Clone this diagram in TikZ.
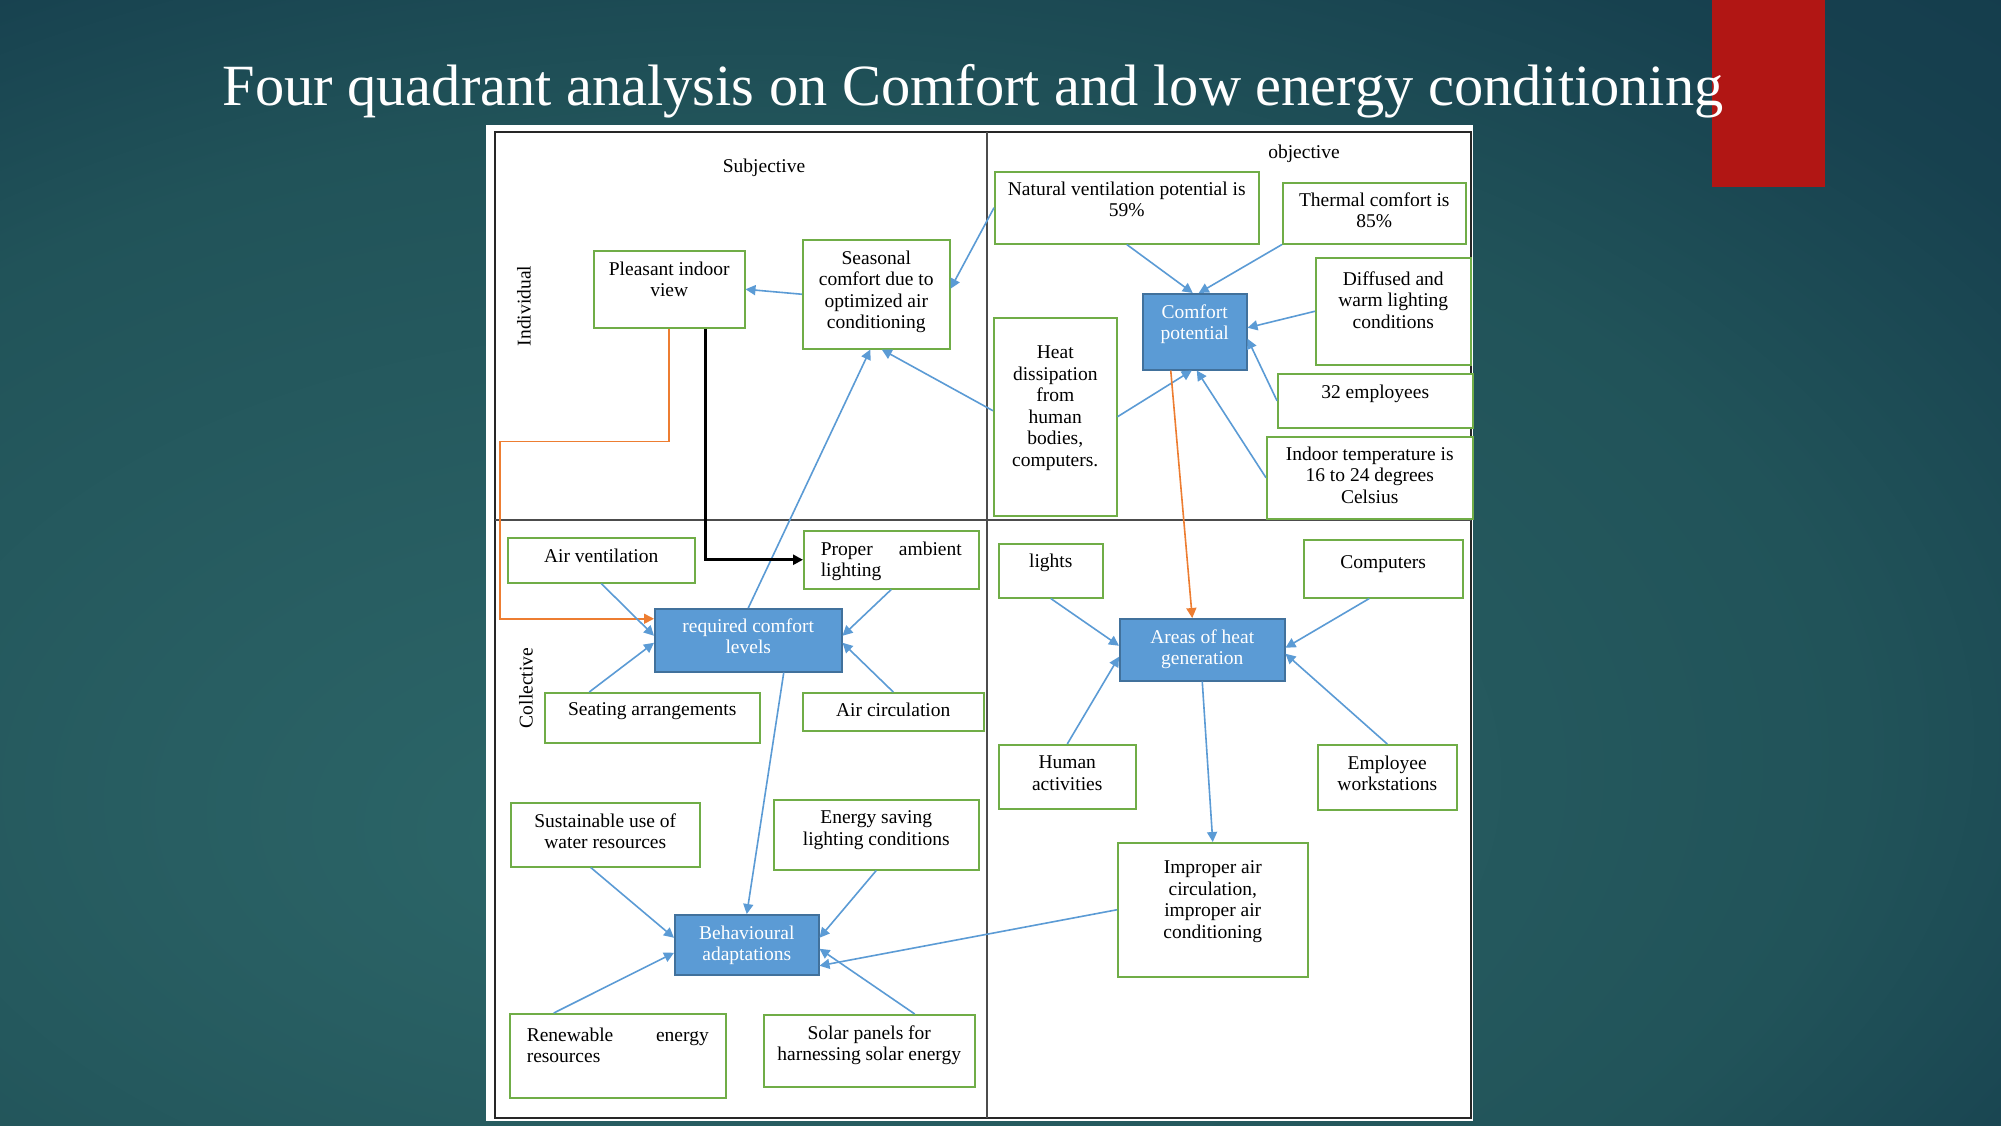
\documentclass[tikz,border=0pt]{standalone}
\usepackage{fontspec}
\setmainfont{Liberation Serif}
\usetikzlibrary{arrows.meta}

\definecolor{bglight}{HTML}{2B6668}
\definecolor{bgsoft}{HTML}{285E62}
\definecolor{bgmid}{HTML}{215359}
\definecolor{bgdeep}{HTML}{17414F}
\definecolor{bgdark}{HTML}{12384A}
\definecolor{slidered}{HTML}{B11614}
\definecolor{boxgreen}{HTML}{70AD47}
\definecolor{boxblue}{HTML}{5B9BD5}
\definecolor{boxedge}{HTML}{41719C}
\definecolor{arrowblue}{HTML}{5B9BD5}
\definecolor{heatorange}{HTML}{ED7D31}

\pgfdeclareradialshading{slidebg}{\pgfpoint{-10bp}{-12.8bp}}{color(0bp)=(bglight); color(12bp)=(bgsoft); color(28bp)=(bgmid); color(38bp)=(bgdeep); color(50bp)=(bgdark); color(80bp)=(bgdark)}

\newcommand{\boxfont}{\fontsize{19.5}{21.5}\selectfont}
% width, height, gap above first line, text
\newcommand{\boxtext}[4]{\parbox[c][#2][t]{#1}{\centering\vspace*{#3}#4}}

\tikzset{
  gbox/.style={draw=boxgreen, line width=1.5pt, fill=white, inner sep=0pt, anchor=north west, font=\boxfont},
  bbox/.style={draw=boxedge, line width=1.5pt, fill=boxblue, text=white, inner sep=0pt, anchor=north west, font=\boxfont},
  lbl/.style={font=\boxfont, inner sep=0pt},
  flow/.style={draw=arrowblue, line width=1.6pt, -{Triangle[length=10pt,width=10pt]}},
  heatline/.style={draw=heatorange, line width=1.6pt, -{Triangle[length=10pt,width=10pt]}},
  viewline/.style={draw=black, line width=3pt, -{Triangle[length=10pt,width=10pt]}}
}

\begin{document}
\begin{tikzpicture}[x=1pt,y=-1pt]
\useasboundingbox (0,0) rectangle (2001,1125);
% slide
\shade[shading=slidebg] (0,0) rectangle (2001,1125);
\fill[slidered] (1712,0) rectangle (1825,187);
\node[anchor=base, text=white, font=\fontsize{58.4}{70}\selectfont, inner sep=0pt] (title) at (973,105) {Four quadrant analysis on Comfort and low energy conditioning};

% panel and quadrants
\fill[white] (486,125) rectangle (1473,1121);
\draw[line width=2pt, black!85] (495,132) rectangle (1471,1118);
\draw[line width=2pt, black!70] (987,132) -- (987,1118);
\draw[line width=2pt, black!70] (495,520) -- (1471,520);

\node[lbl] (subj) at (764,168) {Subjective};
\node[lbl] (obj) at (1304,154) {objective};
\node[lbl, rotate=90] (indiv) at (524,306) {Individual};
\node[lbl, rotate=90] (coll) at (526,688) {Collective};

% individual / subjective
\node[gbox] (pleasant) at (593,250) {\boxtext{151pt}{77pt}{11pt}{Pleasant indoor\\view}};
\node[gbox] (seasonal) at (802,239) {\boxtext{147pt}{109pt}{11pt}{Seasonal\\comfort due to\\optimized air\\conditioning}};

% individual / objective
\node[gbox] (natvent) at (994,171) {\boxtext{264pt}{72pt}{10pt}{Natural ventilation potential is\\59\%}};
\node[gbox] (thermal) at (1282,182) {\boxtext{183pt}{61pt}{10pt}{Thermal comfort is\\85\%}};
\node[gbox] (diffused) at (1315,257) {\boxtext{155pt}{107pt}{14pt}{Diffused and\\warm lighting\\conditions}};
\node[bbox] (comfort) at (1142,293) {\boxtext{104pt}{76pt}{11pt}{Comfort\\potential}};
\node[gbox] (heat) at (993,317) {\boxtext{123pt}{198pt}{28pt}{Heat\\dissipation\\from\\human\\bodies,\\computers.}};
\node[gbox] (staff) at (1277,373) {\boxtext{195pt}{54pt}{11pt}{32 employees}};
\node[gbox] (indoor) at (1266,436) {\boxtext{206pt}{82pt}{10pt}{Indoor temperature is\\16 to 24 degrees\\Celsius}};

% collective / subjective
\node[gbox] (airvent) at (507,537) {\boxtext{187pt}{45pt}{11pt}{Air ventilation}};
\node[gbox] (proper) at (803,530) {\boxtext{175pt}{58pt}{11pt}{\parbox[t]{141pt}{Proper\hfill ambient\\lighting}}};
\node[bbox] (required) at (654,608) {\boxtext{187pt}{63pt}{10pt}{required comfort\\levels}};
\node[gbox] (seating) at (544,692) {\boxtext{215pt}{50pt}{10pt}{Seating arrangements}};
\node[gbox] (aircirc) at (802,692) {\boxtext{181pt}{38pt}{10pt}{Air circulation}};
\node[gbox] (water) at (510,802) {\boxtext{189pt}{64pt}{11pt}{Sustainable use of\\water resources}};
\node[gbox] (saving) at (773,799) {\boxtext{205pt}{70pt}{11pt}{Energy saving\\lighting conditions}};
\node[bbox] (behav) at (674,914) {\boxtext{144pt}{60pt}{11pt}{Behavioural\\adaptations}};
\node[gbox] (renew) at (509,1013) {\boxtext{216pt}{84pt}{14pt}{\parbox[t]{182pt}{Renewable\hfill energy\\resources}}};
\node[gbox] (solar) at (763,1014) {\boxtext{211pt}{72pt}{11pt}{Solar panels for\\harnessing solar energy}};

% collective / objective
\node[gbox] (lights) at (998,543) {\boxtext{104pt}{54pt}{10pt}{lights}};
\node[gbox] (computers) at (1303,539) {\boxtext{159pt}{58pt}{16pt}{Computers}};
\node[bbox] (areas) at (1119,618) {\boxtext{165pt}{62pt}{11pt}{Areas of heat\\generation}};
\node[gbox] (human) at (998,744) {\boxtext{137pt}{64pt}{11pt}{Human\\activities}};
\node[gbox] (workst) at (1317,744) {\boxtext{139pt}{65pt}{11pt}{Employee\\workstations}};
\node[gbox] (improper) at (1117,842) {\boxtext{190pt}{134pt}{18pt}{Improper air\\circulation,\\improper air\\conditioning}};

% connectors
\draw[flow] (seasonal.west) -- (pleasant.east);
\draw[flow] (natvent.west) -- ([yshift=5.5pt]seasonal.east);
\draw[flow] (required.north) -- ([xshift=-6pt]seasonal.south);
\draw[flow] ([yshift=6pt]heat.west) -- ([xshift=5.5pt]seasonal.south);

\draw[flow] (natvent.south) -- ([xshift=-2pt]comfort.north);
\draw[flow] (thermal.south west) -- ([xshift=4pt]comfort.north);
\draw[flow] (diffused.west) -- ([yshift=4pt]comfort.east);
\draw[flow] (staff.west) -- ([yshift=-7pt]comfort.east);
\draw[flow] (indoor.west) -- ([xshift=2pt]comfort.south);
\draw[flow] (heat.east) -- ([xshift=-3pt]comfort.south);

\draw[heatline] ([xshift=-24pt]comfort.south) -- ([xshift=-10pt]areas.north);
\draw[heatline] (pleasant.south) -- ++(0,113) -- ++(-169,0) |- ([yshift=21.5pt]required.west);
\draw[viewline] ([xshift=36.5pt]pleasant.south) |- (proper.west);

\draw[flow] (lights.south) -- ([yshift=4pt]areas.west);
\draw[flow] ([xshift=-14pt]computers.south) -- ([yshift=2pt]areas.east);
\draw[flow] (human.north) -- ([yshift=-7pt]areas.west);
\draw[flow] (workst.north) -- ([yshift=-4pt]areas.east);
\draw[flow] (areas.south) -- (improper.north);
\draw[flow] (improper.west) -- ([yshift=-21pt]behav.east);

\draw[flow] (airvent.south) -- ([yshift=4.5pt]required.west);
\draw[flow] ([xshift=-63pt]seating.north) -- ([yshift=-2.5pt]required.west);
\draw[flow] (proper.south) -- ([yshift=4.5pt]required.east);
\draw[flow] (aircirc.north) -- ([yshift=-2.5pt]required.east);

\draw[flow] ([xshift=35.5pt]required.south) -- (behav.north);
\draw[flow] ([xshift=-14.5pt]water.south) -- ([yshift=7pt]behav.west);
\draw[flow] ([xshift=-64pt]renew.north) -- ([yshift=-8pt]behav.west);
\draw[flow] (saving.south) -- ([yshift=7pt]behav.east);
\draw[flow] ([xshift=45.5pt]solar.north) -- ([yshift=-4pt]behav.east);
\end{tikzpicture}
\end{document}
